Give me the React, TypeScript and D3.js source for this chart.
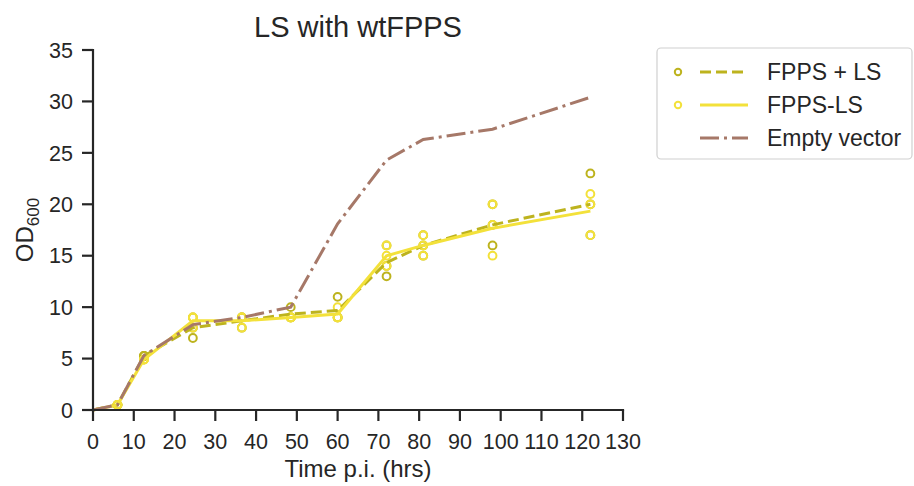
import React from "react";
import * as d3 from "d3";

const times = [6, 12.5, 24.5, 36.5, 48.5, 60, 72, 81, 98, 122];
const fppsPlusLs = [
  [0.5, 0.5, 0.5],
  [5.25, 5.25, 5.25],
  [7, 8, 9],
  [8, 9, 9],
  [10, 9, 9],
  [11, 9, 9],
  [13, 14, 16],
  [15, 16, 17],
  [16, 18, 20],
  [17, 20, 23],
];
const fppsLs = [
  [0.5, 0.5, 0.5],
  [4.9, 4.9, 4.9],
  [8, 9, 9],
  [8, 9, 9],
  [9, 9, 9],
  [9, 9, 10],
  [14, 15, 16],
  [15, 16, 17],
  [15, 18, 20],
  [17, 20, 21],
];
const emptyTimes = [0, 6, 12.5, 24.5, 36.5, 48.5, 60, 72, 81, 98, 122];
const emptyVector = [0, 0.5, 5.3, 8.3, 9, 10, 18.1, 24.3, 26.3, 27.3, 30.4];
const xTicks = d3.range(0, 131, 10);
const yTicks = d3.range(0, 36, 5);
const legendLabels = ["FPPS + LS", "FPPS-LS", "Empty vector"];

const W = 914;
const H = 486;
const TEXT = "#262626";
const OLIVE = "#bdb31e";
const YELLOW = "#f3e13a";
const BROWN = "#a67868";
const FONT = "'Liberation Sans', Arial, sans-serif";

export default function App() {
  const x = d3.scaleLinear().domain([0, 130]).range([93, 623]);
  const y = d3.scaleLinear().domain([0, 35]).range([410, 50]);

  const line = d3
    .line<[number, number]>()
    .x((d) => x(d[0]))
    .y((d) => y(d[1]));

  const meanPts = (reps: number[][]): [number, number][] => [
    [0, 0],
    ...times.map((t, i) => [t, d3.mean(reps[i]) as number] as [number, number]),
  ];
  const emptyPts: [number, number][] = emptyTimes.map((t, i) => [t, emptyVector[i]]);

  const scatter = (reps: number[][], color: string, key: string) =>
    times.flatMap((t, i) =>
      reps[i].map((v, j) => (
        <circle
          key={`${key}-${i}-${j}`}
          cx={x(t)}
          cy={y(v)}
          r={3.9}
          fill="none"
          stroke={color}
          strokeWidth={2}
        />
      ))
    );

  const legendRows = [
    { label: legendLabels[0], color: OLIVE, dash: "11,5", marker: true },
    { label: legendLabels[1], color: YELLOW, dash: "", marker: true },
    { label: legendLabels[2], color: BROWN, dash: "19,5,3,5", marker: false },
  ];

  return (
    <svg
      width={W}
      height={H}
      style={{ position: "absolute", left: 0, top: 0, background: "#fff" }}
      fontFamily={FONT}
    >
      <rect x={0} y={0} width={W} height={H} fill="#fff" />
      <text x={358} y={37} textAnchor="middle" fontSize={29} fill={TEXT}>
        LS with wtFPPS
      </text>

      {scatter(fppsPlusLs, OLIVE, "a")}
      {scatter(fppsLs, YELLOW, "b")}

      <path d={line(meanPts(fppsPlusLs)) || ""} fill="none" stroke={OLIVE} strokeWidth={3} strokeDasharray="11,5" />
      <path d={line(meanPts(fppsLs)) || ""} fill="none" stroke={YELLOW} strokeWidth={3} />
      <path d={line(emptyPts) || ""} fill="none" stroke={BROWN} strokeWidth={3} strokeDasharray="19,5,3,5" />

      <line x1={x(0)} x2={x(130)} y1={y(0)} y2={y(0)} stroke={TEXT} strokeWidth={2.2} strokeLinecap="square" />
      <line x1={x(0)} x2={x(0)} y1={y(0)} y2={y(35)} stroke={TEXT} strokeWidth={2.2} strokeLinecap="square" />
      {xTicks.map((t) => (
        <g key={`xt${t}`}>
          <line x1={x(t)} x2={x(t)} y1={y(0)} y2={y(0) + 11} stroke={TEXT} strokeWidth={2.2} />
          <text x={x(t)} y={449} textAnchor="middle" fontSize={21.5} fill={TEXT}>
            {t}
          </text>
        </g>
      ))}
      {yTicks.map((t) => (
        <g key={`yt${t}`}>
          <line x1={x(0) - 11} x2={x(0)} y1={y(t)} y2={y(t)} stroke={TEXT} strokeWidth={2.2} />
          <text x={73} y={y(t)} dy="0.36em" textAnchor="end" fontSize={21.5} fill={TEXT}>
            {t}
          </text>
        </g>
      ))}
      <text x={358} y={477} textAnchor="middle" fontSize={24} fill={TEXT}>
        Time p.i. (hrs)
      </text>
      <text transform="translate(33,230) rotate(-90)" textAnchor="middle" fontSize={24} fill={TEXT}>
        OD
        <tspan fontSize={17} dy={6}>600</tspan>
      </text>

      <rect x={657} y={48} width={255} height={111} rx={4} fill="#fff" stroke="#d0d0d0" strokeWidth={1.2} />
      {legendRows.map((r, i) => {
        const cy = 72 + i * 33;
        return (
          <g key={`lg${i}`}>
            {r.marker && (
              <circle cx={678} cy={cy} r={3.2} fill="none" stroke={r.color} strokeWidth={2} />
            )}
            <line x1={700} x2={748} y1={cy} y2={cy} stroke={r.color} strokeWidth={3} strokeDasharray={r.dash || undefined} />
            <text x={767} y={cy} dy="0.36em" fontSize={23} fill={TEXT}>
              {r.label}
            </text>
          </g>
        );
      })}
    </svg>
  );
}
